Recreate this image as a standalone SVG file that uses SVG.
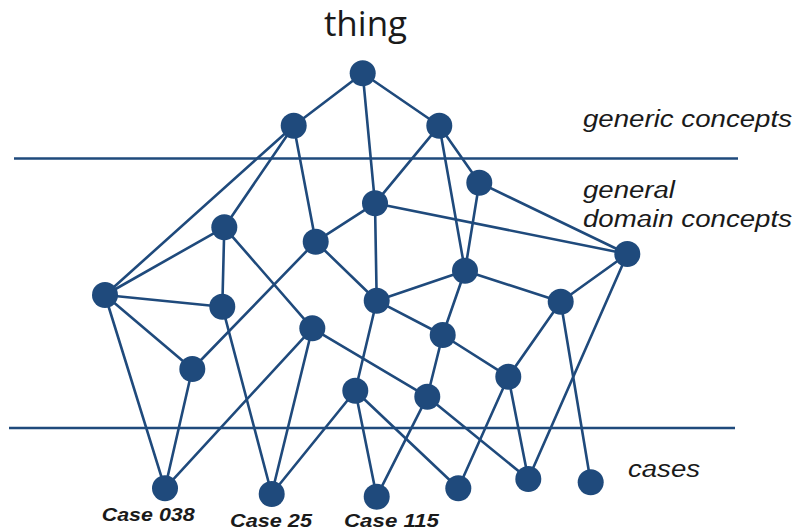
<svg xmlns="http://www.w3.org/2000/svg" width="795" height="531" viewBox="0 0 795 531">
<style>
.e{stroke:#1f4a7c;stroke-width:2.6;fill:none;stroke-linecap:round}
.n{fill:#1f4a7c}
.lv{stroke:#1f4a7c;stroke-width:2.6}
.t{font-family:"Liberation Sans",Arial,sans-serif;font-style:italic;fill:#1a1a1a;font-size:23px}
.c{font-family:"Liberation Sans",Arial,sans-serif;font-style:italic;font-weight:bold;fill:#1a1a1a;font-size:19px}
</style>
<rect width="795" height="531" fill="#fff"/>
<g id="levels">
<line class="lv" x1="14" y1="158.5" x2="738" y2="158.5"/>
<line class="lv" x1="9" y1="428" x2="735" y2="428"/>
</g>
<g id="connectors">
<line class="e" x1="362.7" y1="73.3" x2="293.7" y2="125.7"/>
<line class="e" x1="362.7" y1="73.3" x2="439.3" y2="125.7"/>
<line class="e" x1="362.7" y1="73.3" x2="375" y2="203.3"/>
<line class="e" x1="293.7" y1="125.7" x2="105" y2="295"/>
<line class="e" x1="293.7" y1="125.7" x2="224.3" y2="227.3"/>
<line class="e" x1="293.7" y1="125.7" x2="315.7" y2="241.7"/>
<line class="e" x1="439.3" y1="125.7" x2="375" y2="203.3"/>
<line class="e" x1="439.3" y1="125.7" x2="479.3" y2="182.7"/>
<line class="e" x1="439.3" y1="125.7" x2="465" y2="270.7"/>
<line class="e" x1="479.3" y1="182.7" x2="627.3" y2="254"/>
<line class="e" x1="479.3" y1="182.7" x2="465" y2="270.7"/>
<line class="e" x1="375" y1="203.3" x2="315.7" y2="241.7"/>
<line class="e" x1="375" y1="203.3" x2="627.3" y2="254"/>
<line class="e" x1="375" y1="203.3" x2="376.7" y2="300.7"/>
<line class="e" x1="224.3" y1="227.3" x2="105" y2="295"/>
<line class="e" x1="224.3" y1="227.3" x2="222.3" y2="306.7"/>
<line class="e" x1="224.3" y1="227.3" x2="312.3" y2="328.3"/>
<line class="e" x1="315.7" y1="241.7" x2="192.3" y2="369"/>
<line class="e" x1="315.7" y1="241.7" x2="376.7" y2="300.7"/>
<line class="e" x1="627.3" y1="254" x2="560.7" y2="301.7"/>
<line class="e" x1="627.3" y1="254" x2="528.3" y2="479"/>
<line class="e" x1="105" y1="295" x2="222.3" y2="306.7"/>
<line class="e" x1="105" y1="295" x2="192.3" y2="369"/>
<line class="e" x1="105" y1="295" x2="165" y2="488.3"/>
<line class="e" x1="222.3" y1="306.7" x2="271.7" y2="494"/>
<line class="e" x1="465" y1="270.7" x2="376.7" y2="300.7"/>
<line class="e" x1="465" y1="270.7" x2="560.7" y2="301.7"/>
<line class="e" x1="465" y1="270.7" x2="442.7" y2="335"/>
<line class="e" x1="376.7" y1="300.7" x2="442.7" y2="335"/>
<line class="e" x1="376.7" y1="300.7" x2="355.3" y2="390.7"/>
<line class="e" x1="560.7" y1="301.7" x2="508.3" y2="376.7"/>
<line class="e" x1="560.7" y1="301.7" x2="590.7" y2="482.3"/>
<line class="e" x1="312.3" y1="328.3" x2="427.3" y2="396.7"/>
<line class="e" x1="312.3" y1="328.3" x2="271.7" y2="494"/>
<line class="e" x1="312.3" y1="328.3" x2="165" y2="488.3"/>
<line class="e" x1="442.7" y1="335" x2="508.3" y2="376.7"/>
<line class="e" x1="442.7" y1="335" x2="427.3" y2="396.7"/>
<line class="e" x1="192.3" y1="369" x2="165" y2="488.3"/>
<line class="e" x1="508.3" y1="376.7" x2="458.3" y2="488.3"/>
<line class="e" x1="508.3" y1="376.7" x2="528.3" y2="479"/>
<line class="e" x1="355.3" y1="390.7" x2="376.7" y2="496.7"/>
<line class="e" x1="355.3" y1="390.7" x2="458.3" y2="488.3"/>
<line class="e" x1="355.3" y1="390.7" x2="271.7" y2="494"/>
<line class="e" x1="427.3" y1="396.7" x2="376.7" y2="496.7"/>
<line class="e" x1="427.3" y1="396.7" x2="528.3" y2="479"/>
</g>
<g id="thing"><circle class="n" cx="362.7" cy="73.3" r="13"/></g>
<g id="g1"><circle class="n" cx="293.7" cy="125.7" r="13"/></g>
<g id="g2"><circle class="n" cx="439.3" cy="125.7" r="13"/></g>
<g id="a"><circle class="n" cx="479.3" cy="182.7" r="13"/></g>
<g id="b"><circle class="n" cx="375" cy="203.3" r="13"/></g>
<g id="c"><circle class="n" cx="224.3" cy="227.3" r="13"/></g>
<g id="d"><circle class="n" cx="315.7" cy="241.7" r="13"/></g>
<g id="e"><circle class="n" cx="627.3" cy="254" r="13"/></g>
<g id="f"><circle class="n" cx="105" cy="295" r="13"/></g>
<g id="h"><circle class="n" cx="222.3" cy="306.7" r="13"/></g>
<g id="i"><circle class="n" cx="465" cy="270.7" r="13"/></g>
<g id="j"><circle class="n" cx="376.7" cy="300.7" r="13"/></g>
<g id="k"><circle class="n" cx="560.7" cy="301.7" r="13"/></g>
<g id="l"><circle class="n" cx="312.3" cy="328.3" r="13"/></g>
<g id="m"><circle class="n" cx="442.7" cy="335" r="13"/></g>
<g id="nn"><circle class="n" cx="192.3" cy="369" r="13"/></g>
<g id="o"><circle class="n" cx="508.3" cy="376.7" r="13"/></g>
<g id="p"><circle class="n" cx="355.3" cy="390.7" r="13"/></g>
<g id="q"><circle class="n" cx="427.3" cy="396.7" r="13"/></g>
<g id="case038"><circle class="n" cx="165" cy="488.3" r="13"/><text class="c" x="101.7" y="521" textLength="93" lengthAdjust="spacingAndGlyphs">Case 038</text></g>
<g id="case25"><circle class="n" cx="271.7" cy="494" r="13"/><text class="c" x="230" y="526.5" textLength="82" lengthAdjust="spacingAndGlyphs">Case 25</text></g>
<g id="case115"><circle class="n" cx="376.7" cy="496.7" r="13"/><text class="c" x="344" y="527" textLength="95" lengthAdjust="spacingAndGlyphs">Case 115</text></g>
<g id="case4"><circle class="n" cx="458.3" cy="488.3" r="13"/></g>
<g id="case5"><circle class="n" cx="528.3" cy="479" r="13"/></g>
<g id="case6"><circle class="n" cx="590.7" cy="482.3" r="13"/></g>
<g id="labels">
<text x="365.5" y="36" text-anchor="middle" style="font-family:'Open Sans','Liberation Sans',sans-serif;font-size:35px;fill:#1a1a1a">thing</text>
<text class="t" x="583" y="127" textLength="209" lengthAdjust="spacingAndGlyphs">generic concepts</text>
<text class="t" x="583" y="198" textLength="92" lengthAdjust="spacingAndGlyphs">general</text>
<text class="t" x="583" y="227" textLength="209" lengthAdjust="spacingAndGlyphs">domain concepts</text>
<text class="t" x="628" y="477" textLength="72" lengthAdjust="spacingAndGlyphs">cases</text>
</g>
</svg>
